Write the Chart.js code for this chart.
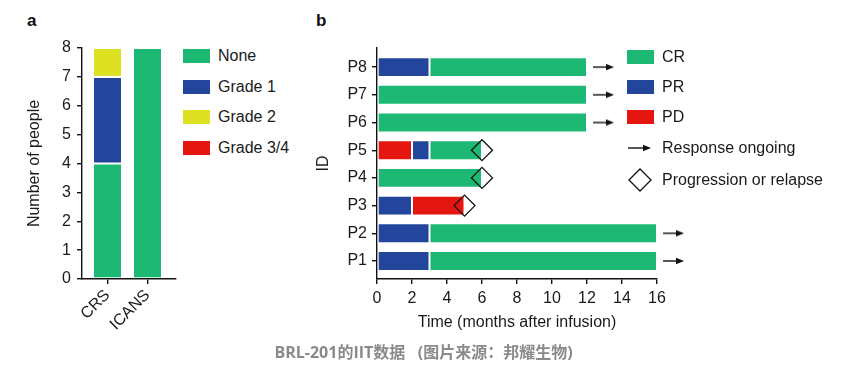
<!DOCTYPE html>
<html>
<head>
<meta charset="utf-8">
<script src="https://cdn.jsdelivr.net/npm/chart.js@4/dist/chart.umd.min.js"></script>
<style>
body{margin:0;background:#fff;width:855px;height:370px;position:relative;overflow:hidden;font-family:"Liberation Sans",Arial,sans-serif;color:#1a1a1a}
.panel{position:absolute;top:11px;font-weight:bold;font-size:17px;color:#111}
canvas{position:absolute;top:0}
.legend{position:absolute;top:0;font-size:16px}
.sw{position:absolute;left:0;width:27px;height:14px;box-sizing:border-box}
.lbl{position:absolute;left:35px;white-space:nowrap;line-height:18px}
#caption{position:absolute;left:0;width:847px;top:339px;text-align:center;font-family:"Open Sans","Noto Sans CJK SC",sans-serif;font-weight:bold;font-size:16px;color:#8a8a8a;white-space:pre}
</style>
</head>
<body>
<div class="panel" style="left:27px">a</div>
<div class="panel" style="left:316px">b</div>
<canvas id="chartA" width="180" height="340" style="left:0"></canvas>
<canvas id="chartB" width="400" height="340" style="left:300px"></canvas>
<div class="legend" id="legendA" style="left:183px"></div>
<div class="legend" id="legendB" style="left:627px"></div>
<div id="caption">BRL-201的IIT数据   (图片来源：邦耀生物)</div>
<script>
// panel a: adverse events
const sideEffects = ['CRS', 'ICANS'];
const gradeNames = ['None', 'Grade 1', 'Grade 2', 'Grade 3/4'];
const noneCounts = [4, 8];
const grade1Counts = [3, 0];
const grade2Counts = [1, 0];
const grade34Counts = [0, 0];
const peopleTicks = [0, 1, 2, 3, 4, 5, 6, 7, 8];

// panel b: response per patient (months)
const patients = ['P1', 'P2', 'P3', 'P4', 'P5', 'P6', 'P7', 'P8'];
const crSpans = [[3, 16], [3, 16], null, [0, 6], [3, 6], [0, 12], [0, 12], [3, 12]];
const prSpans = [[0, 3], [0, 3], [0, 2], null, [2, 3], null, null, [0, 3]];
const pdSpans = [null, null, [2, 5], null, [0, 2], null, null, null];
const ongoingAt = [16, 16, null, null, null, 12, 12, 12];
const relapseAt = [null, null, 5, 6, 6, null, null, null];
const timeTicks = [0, 2, 4, 6, 8, 10, 12, 14, 16];
const responseNames = ['CR', 'PR', 'PD'];

const GREEN = '#1db874';
const BLUE = '#23459c';
const YELLOW = '#dce222';
const RED = '#e5150f';
const gradeColors = [GREEN, BLUE, YELLOW, RED];
const responseColors = [GREEN, BLUE, RED];

const FONT = {family: '"Liberation Sans", Arial, sans-serif', size: 16};
const INK = '#1a1a1a';

Chart.defaults.animation = false;
Chart.defaults.color = INK;
Chart.defaults.font.family = FONT.family;
Chart.defaults.font.size = 16;

function spansToData(spans){
    const out = [];
    spans.forEach((s, i) => { if (s) out.push({y: i + 1, x: s}); });
    return out;
}
function pointsToData(vals){
    const out = [];
    vals.forEach((v, i) => { if (v !== null) out.push({y: i + 1, x: v}); });
    return out;
}

function makeArrow(){
    const c = document.createElement('canvas');
    c.width = 56;
    c.height = 10;
    const ctx = c.getContext('2d');
    ctx.strokeStyle = '#111';
    ctx.fillStyle = '#111';
    ctx.lineWidth = 1.4;
    ctx.beginPath();
    ctx.moveTo(34, 5);
    ctx.lineTo(48, 5);
    ctx.stroke();
    ctx.beginPath();
    ctx.moveTo(55, 5);
    ctx.lineTo(47, 1.8);
    ctx.lineTo(47, 8.2);
    ctx.closePath();
    ctx.fill();
    return c;
}

function axisStyle(){
    return {
        offset: false,
        border: {display: true, color: '#111', width: 1.4},
        grid: {drawOnChartArea: false, drawTicks: true, tickLength: 5, color: '#111', lineWidth: 1.4, offset: false}
    };
}

function renderChartA(){
    const counts = [noneCounts, grade1Counts, grade2Counts, grade34Counts];
    new Chart(document.getElementById('chartA'), {
        type: 'bar',
        data: {
            datasets: gradeNames.map((name, i) => ({
                label: name,
                data: counts[i].map((v, j) => ({x: j + 1, y: v})),
                backgroundColor: gradeColors[i],
                borderColor: 'rgba(255,255,255,0.35)',
                borderWidth: 1,
                borderSkipped: false,
                barPercentage: 0.725,
                categoryPercentage: 1
            }))
        },
        options: {
            responsive: false,
            layout: {padding: {top: 48, right: 4, left: 0, bottom: 0}},
            plugins: {legend: {display: false}, tooltip: {enabled: false}},
            scales: {
                x: Object.assign(axisStyle(), {
                    type: 'linear',
                    stacked: true,
                    min: 0.3625,
                    max: 2.7125,
                    afterBuildTicks: s => { s.ticks = sideEffects.map((c, i) => ({value: i + 1})); },
                    ticks: {color: INK, font: FONT, minRotation: 45, maxRotation: 45, padding: 2, callback: v => sideEffects[v - 1]},
                    afterFit: s => { s.height = 61; }
                }),
                y: Object.assign(axisStyle(), {
                    stacked: true,
                    min: 0,
                    max: 8,
                    afterBuildTicks: s => { s.ticks = peopleTicks.map(v => ({value: v})); },
                    ticks: {color: INK, font: FONT, padding: 6},
                    title: {display: true, text: 'Number of people', color: INK, font: FONT, padding: {top: 25, bottom: 0}},
                    afterFit: s => { s.width = 82; }
                })
            }
        }
    });
}

function renderChartB(){
    const spans = [crSpans, prSpans, pdSpans];
    const datasets = responseNames.map((name, i) => ({
        type: 'bar',
        label: name,
        data: spansToData(spans[i]),
        backgroundColor: responseColors[i],
        borderColor: 'rgba(255,255,255,0.35)',
        borderWidth: 1,
        borderSkipped: false,
        grouped: false,
        barPercentage: 0.9,
        categoryPercentage: 0.8
    }));
    datasets.push({
        type: 'scatter',
        label: 'Response ongoing',
        data: pointsToData(ongoingAt),
        pointStyle: makeArrow(),
        clip: false,
        order: -2
    });
    datasets.push({
        type: 'scatter',
        label: 'Progression or relapse',
        data: pointsToData(relapseAt),
        pointStyle: 'rectRot',
        radius: 10.5,
        backgroundColor: 'rgba(0,0,0,0)',
        borderColor: '#111',
        borderWidth: 1.3,
        clip: false,
        order: -1
    });

    new Chart(document.getElementById('chartB'), {
        type: 'bar',
        data: {datasets},
        options: {
            responsive: false,
            indexAxis: 'y',
            layout: {padding: {top: 48, right: 43, left: 0, bottom: 0}},
            plugins: {legend: {display: false}, tooltip: {enabled: false}},
            scales: {
                x: Object.assign(axisStyle(), {
                    type: 'linear',
                    min: 0,
                    max: 16,
                    afterBuildTicks: s => { s.ticks = timeTicks.map(v => ({value: v})); },
                    ticks: {color: INK, font: FONT, padding: 5},
                    title: {display: true, text: 'Time (months after infusion)', color: INK, font: FONT, padding: {top: 0, bottom: 8}},
                    afterFit: s => { s.height = 61; }
                }),
                y: Object.assign(axisStyle(), {
                    type: 'linear',
                    min: 0.35,
                    max: 8.69,
                    afterBuildTicks: s => { s.ticks = patients.map((p, i) => ({value: i + 1})); },
                    ticks: {color: INK, font: FONT, padding: 5, callback: v => patients[v - 1]},
                    title: {display: true, text: 'ID', color: INK, font: FONT, padding: {top: 14, bottom: 0}},
                    afterFit: s => { s.width = 77; }
                })
            }
        }
    });
}

function renderLegends(){
    const legendA = document.getElementById('legendA');
    const topsA = [49, 80, 110, 141];
    legendA.innerHTML = gradeNames.map((name, i) => `
        <div class="sw" style="top:${topsA[i]}px;background:${gradeColors[i]}"></div>
        <div class="lbl" style="top:${topsA[i] - 2}px">${name}</div>
    `).join('');

    const legendB = document.getElementById('legendB');
    const topsB = [50, 80, 110];
    let html = responseNames.map((name, i) => `
        <div class="sw" style="top:${topsB[i]}px;background:${responseColors[i]}"></div>
        <div class="lbl" style="top:${topsB[i] - 2}px">${name}</div>
    `).join('');
    html += `
        <svg style="position:absolute;left:1px;top:143px" width="24" height="10">
            <line x1="0" y1="5" x2="16" y2="5" stroke="#111" stroke-width="1.4"/>
            <polygon points="23,5 15,1.8 15,8.2" fill="#111"/>
        </svg>
        <div class="lbl" style="top:139px">Response ongoing</div>
        <svg style="position:absolute;left:1px;top:168px" width="24" height="24">
            <polygon points="1,12 12,1 23,12 12,23" fill="none" stroke="#111" stroke-width="1.3"/>
        </svg>
        <div class="lbl" style="top:171px">Progression or relapse</div>
    `;
    legendB.innerHTML = html;
}

document.addEventListener('DOMContentLoaded', () => {
    renderChartA();
    renderChartB();
    renderLegends();
});
</script>
</body>
</html>
